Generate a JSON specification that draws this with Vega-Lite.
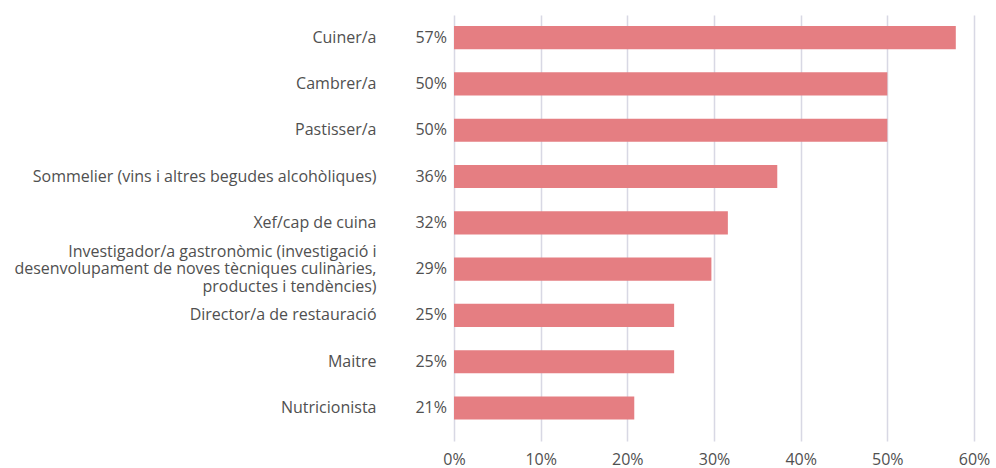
{
  "$schema": "https://vega.github.io/schema/vega-lite/v6.json",
  "width": 520,
  "height": 426,
  "autosize": {"type": "none"},
  "padding": {"left": 454, "top": 15, "right": 22, "bottom": 27},
  "config": {
    "view": {"stroke": null},
    "font": "Open Sans",
    "axis": {"labelFont": "Open Sans", "labelColor": "#505050", "labelFontSize": 16}
  },
  "data": {
    "values": [
      {"ocupacio": "Cuiner/a", "valor": 57.9, "etiqueta": "57%"},
      {"ocupacio": "Cambrer/a", "valor": 50.0, "etiqueta": "50%"},
      {"ocupacio": "Pastisser/a", "valor": 50.0, "etiqueta": "50%"},
      {"ocupacio": "Sommelier (vins i altres begudes alcohòliques)", "valor": 37.3, "etiqueta": "36%"},
      {"ocupacio": "Xef/cap de cuina", "valor": 31.6, "etiqueta": "32%"},
      {"ocupacio": "Investigador/a gastronòmic (investigació i|desenvolupament de noves tècniques culinàries,|productes i tendències)", "valor": 29.7, "etiqueta": "29%"},
      {"ocupacio": "Director/a de restauració", "valor": 25.4, "etiqueta": "25%"},
      {"ocupacio": "Maitre", "valor": 25.4, "etiqueta": "25%"},
      {"ocupacio": "Nutricionista", "valor": 20.8, "etiqueta": "21%"}
    ]
  },
  "encoding": {
    "y": {
      "field": "ocupacio",
      "type": "nominal",
      "sort": null,
      "scale": {"paddingInner": 0.5, "paddingOuter": 0.35, "align": 0.34},
      "axis": {
        "title": null,
        "domain": false,
        "ticks": false,
        "labelPadding": 78,
        "labelLimit": 500,
        "labelLineHeight": 17.5,
        "labelBaseline": "middle",
        "labelOffset": {"condition": {"test": "indexof(datum.label, '|') >= 0", "value": -17.5}, "value": 0},
        "labelExpr": "split(datum.label, '|')"
      }
    }
  },
  "layer": [
    {
      "mark": {"type": "bar", "color": "#e57e82"},
      "encoding": {
        "x": {
          "field": "valor",
          "type": "quantitative",
          "scale": {"domain": [0, 60], "nice": false},
          "axis": {
            "title": null,
            "values": [0, 10, 20, 30, 40, 50, 60],
            "labelExpr": "datum.value + '%'",
            "domain": false,
            "ticks": false,
            "labelPadding": 10,
            "grid": true,
            "gridColor": "#d8d8e4",
            "gridWidth": 1.5,
            "labelFlush": false
          }
        }
      }
    },
    {
      "mark": {"type": "text", "align": "right", "baseline": "middle", "dx": -7, "fontSize": 16, "color": "#505050", "font": "Open Sans"},
      "encoding": {
        "x": {"datum": 0, "type": "quantitative"},
        "text": {"field": "etiqueta"}
      }
    }
  ]
}
